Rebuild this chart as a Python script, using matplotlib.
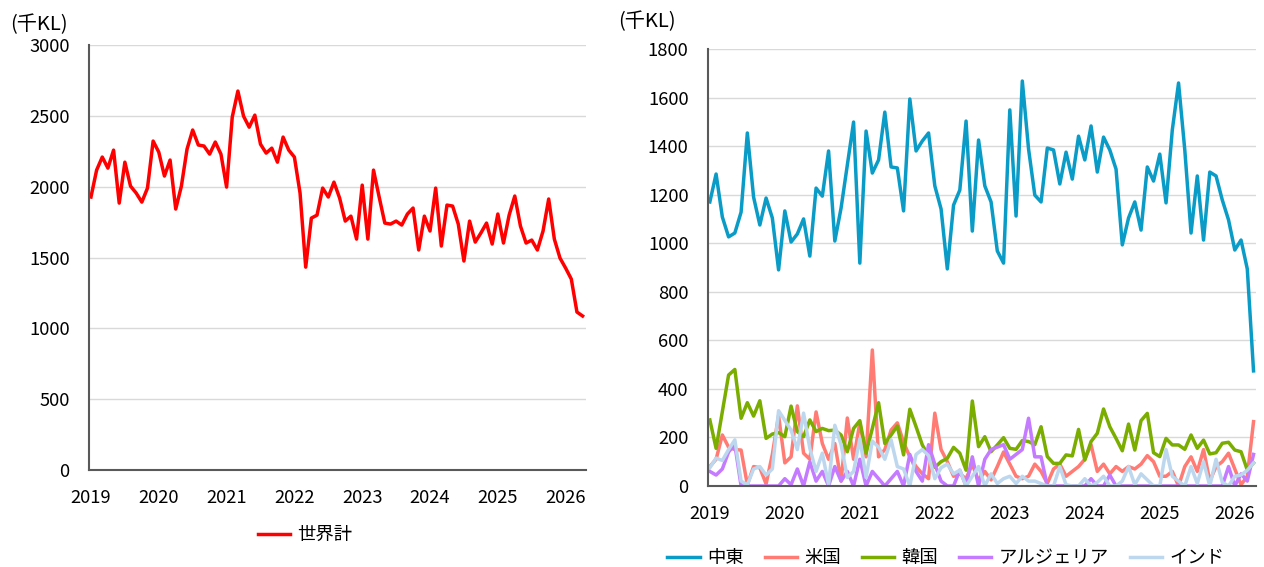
import matplotlib
matplotlib.use("Agg")
import matplotlib.pyplot as plt
import numpy as np

plt.rcParams['font.family'] = ['Noto Sans CJK JP', 'DejaVu Sans']

# ---- data (monthly, 2019-01 .. 2026-04) ----
years = [2019, 2020, 2021, 2022, 2023, 2024, 2025, 2026]

world_total = [1927, 2117, 2209, 2131, 2258, 1884, 2173, 2004, 1955, 1891, 1990, 2322,
               2244, 2075, 2188, 1842, 2004, 2265, 2400, 2294, 2287, 2230, 2315, 2230,
               1997, 2491, 2675, 2498, 2420, 2505, 2300, 2237, 2272, 2173, 2350, 2258,
               2209, 1955, 1432, 1778, 1799, 1990, 1927, 2032, 1920, 1757, 1792, 1630,
               2011, 1630, 2117, 1927, 1743, 1736, 1757, 1729, 1807, 1849, 1553, 1792,
               1687, 1990, 1581, 1870, 1863, 1736, 1475, 1757, 1609, 1673, 1743, 1595,
               1807, 1602, 1799, 1934, 1722, 1602, 1623, 1553, 1687, 1913, 1630, 1496,
               1425, 1348, 1115, 1087]

middle_east = [1170, 1285, 1108, 1026, 1042, 1128, 1454, 1190, 1075, 1186, 1104, 890,
               1133, 1005, 1038, 1100, 947, 1227, 1194, 1380, 1009, 1145, 1322, 1499,
               918, 1462, 1289, 1343, 1540, 1314, 1310, 1133, 1594, 1380, 1421, 1454,
               1236, 1141, 894, 1157, 1219, 1503, 1050, 1425, 1236, 1170, 968, 918,
               1549, 1112, 1668, 1388, 1198, 1170, 1392, 1384, 1244, 1375, 1264, 1441,
               1343, 1483, 1293, 1437, 1384, 1305, 993, 1104, 1170, 1054, 1314, 1256,
               1367, 1166, 1466, 1660, 1384, 1042, 1277, 1013, 1293, 1277, 1178, 1096,
               972, 1013, 894, 474]

usa = [80, 110, 210, 160, 150, 148, 5, 80, 75, 8, 130, 290,
       95, 120, 330, 135, 110, 305, 175, 110, 175, 20, 280, 110,
       260, 120, 560, 120, 150, 230, 260, 180, 120, 80, 50, 30,
       300, 150, 100, 40, 50, 30, 90, 20, 60, 25, 80, 140,
       90, 40, 30, 40, 90, 60, 10, 70, 90, 40, 60, 80,
       110, 170, 60, 90, 50, 80, 60, 80, 70, 90, 125, 100,
       40, 40, 60, 0, 80, 120, 60, 150, 20, 80, 100, 135,
       70, 5, 40, 265]

korea = [272, 155, 306, 457, 480, 279, 343, 288, 351, 196, 214, 220,
         203, 329, 224, 203, 272, 224, 237, 228, 230, 210, 141, 237,
         269, 135, 237, 343, 175, 210, 247, 128, 316, 244, 169, 124,
         77, 100, 114, 159, 135, 65, 350, 162, 203, 141, 169, 199,
         155, 151, 187, 183, 170, 244, 121, 93, 93, 128, 124, 233,
         107, 183, 217, 317, 244, 196, 145, 255, 148, 269, 299, 137,
         121, 196, 169, 169, 151, 210, 155, 189, 132, 137, 176, 180,
         148, 141, 66, 95]

algeria = [60, 45, 70, 140, 170, 0, 0, 0, 0, 0, 0, 0,
           30, 5, 70, 0, 100, 20, 60, 0, 80, 20, 60, 0,
           110, 0, 60, 30, 0, 30, 60, 0, 130, 60, 20, 170,
           90, 20, 0, 0, 65, 0, 120, 0, 110, 150, 160, 170,
           110, 130, 150, 279, 120, 120, 0, 0, 0, 0, 0, 0,
           0, 30, 0, 0, 45, 0, 0, 0, 0, 0, 0, 0,
           0, 0, 0, 0, 0, 0, 0, 0, 0, 0, 0, 80,
           0, 50, 20, 130]

india = [75, 115, 105, 150, 190, 20, 5, 70, 80, 45, 70, 310,
         270, 230, 150, 300, 155, 60, 135, 5, 250, 170, 35, 60,
         195, 35, 185, 160, 110, 190, 80, 70, 0, 130, 150, 125,
         30, 75, 90, 50, 65, 0, 40, 80, 0, 50, 10, 30,
         40, 10, 40, 20, 20, 10, 0, 0, 80, 5, 0, 0,
         30, 0, 15, 40, 0, 0, 20, 80, 5, 50, 25, 0,
         0, 150, 40, 20, 0, 80, 10, 100, 0, 110, 15, 0,
         40, 45, 65, 95]

unit_label = "(千KL)"
world_label = "世界計"
series_labels = ["中東", "米国", "韓国", "アルジェリア", "インド"]
series_colors = ["#0A9CC6", "#FF7B73", "#7AAD00", "#C47BFF", "#BDD7EE"]

months = np.arange(len(world_total))
tick_pos = [12 * i for i in range(len(years))]

fig = plt.figure(figsize=(12.64, 5.67), dpi=100)
FS = 13.2
GRID = "#D9D9D9"
SPINE = "#595959"
LW = 2.5

def style(ax, ylim, ystep, xlim):
    ax.set_xlim(*xlim)
    ax.set_ylim(*ylim)
    ax.set_yticks(np.arange(ylim[0], ylim[1] + 1, ystep))
    ax.set_xticks(tick_pos)
    ax.set_xticklabels([str(y) for y in years])
    ax.grid(axis='y', color=GRID, linewidth=1.0)
    ax.set_axisbelow(True)
    for s in ['top', 'right']:
        ax.spines[s].set_visible(False)
    for s in ['left', 'bottom']:
        ax.spines[s].set_color(SPINE)
        ax.spines[s].set_linewidth(1.5)
    ax.tick_params(axis='both', length=0, labelsize=FS, colors='black')
    ax.tick_params(axis='y', pad=14)
    ax.tick_params(axis='x', pad=14)

# left chart
ax1 = fig.add_axes([0.0704, 0.1711, 0.3932, 0.7495])
l1, = ax1.plot(months, world_total, color="#FF0000", linewidth=LW, label=world_label)
style(ax1, (0, 3000), 500, (-0.35, 87.6))
fig.text(10 / 1264, 1 - 25 / 567, unit_label, fontsize=14.5, va='center', ha='left')
fig.legend(handles=[l1], loc='center', bbox_to_anchor=(305 / 1264, 1 - 535 / 567),
           frameon=False, fontsize=FS, handlelength=1.75, handletextpad=0.4,
           borderpad=0.1)

# right chart
ax2 = fig.add_axes([0.5601, 0.1429, 0.4336, 0.7707])
handles = []
for vals, lab, col in zip([middle_east, usa, korea, algeria, india], series_labels, series_colors):
    h, = ax2.plot(months, vals, color=col, linewidth=LW, label=lab)
    handles.append(h)
style(ax2, (0, 1800), 200, (-0.3, 87.4))
fig.text(618 / 1264, 1 - 22 / 567, unit_label, fontsize=14.5, va='center', ha='left')
fig.legend(handles=handles, loc='center', bbox_to_anchor=(946 / 1264, 1 - 558 / 567),
           frameon=False, fontsize=FS, ncol=5, handlelength=1.75, handletextpad=0.4,
           columnspacing=1.15, borderpad=0.1)

fig.savefig("out.png", dpi=100)
